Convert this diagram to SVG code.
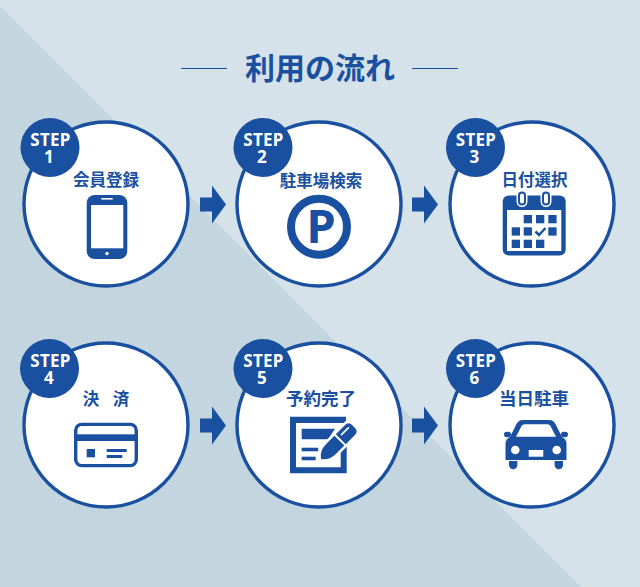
<svg xmlns="http://www.w3.org/2000/svg" width="640" height="587" viewBox="0 0 640 587">
<style>
.b{fill:#1a50a0}.w{fill:#fff}
.c{fill:#fff;stroke:#1a50a0;stroke-width:3.4}
text{font-family:"Noto Sans CJK JP","Noto Sans",sans-serif;font-weight:700;text-anchor:middle}
.s{fill:#fff;font-size:17px;letter-spacing:.3px;font-family:"Noto Sans","Noto Sans CJK JP",sans-serif}
.l{fill:#1a50a0;font-size:16.5px}
.t{fill:#1a50a0;font-size:30px}
</style>
<defs>
<g id="arrow"><path d="M0-7H12V-19L26 0 12 19V7H0Z" class="b"/></g>
</defs>
<rect width="640" height="587" fill="#d5e2e9"/>
<path d="M0 6L581 587H0Z" fill="#c3d5de"/>
<g id="title">
<text class="t" x="320" y="79">利用の流れ</text>
<path d="M181 68.5H227M412 68.5H458" stroke="#1a50a0" fill="none"/>
</g>
<g id="connectors">
<use href="#arrow" x="200" y="204.5"/>
<use href="#arrow" x="412" y="204.5"/>
<use href="#arrow" x="200" y="425.5"/>
<use href="#arrow" x="412" y="425.5"/>
</g>
<g id="step1">
<circle class="c" cx="106" cy="204" r="82"/>
<circle class="b" cx="50" cy="147.5" r="29.5"/>
<text class="s" x="50.500" y="146">STEP<tspan x="49" dy="17">1</tspan></text>
<text class="l" x="106" y="186">会員登録</text>
<rect class="b" x="86.7" y="195" width="40.6" height="64" rx="8"/>
<rect class="w" x="91" y="205" width="32.3" height="43.3"/>
<rect class="w" x="101.3" y="198" width="11.4" height="1.6"/>
<circle class="w" cx="107" cy="253.5" r="1.7"/>
</g>
<g id="step2">
<circle class="c" cx="319" cy="204" r="82"/>
<circle class="b" cx="263" cy="147.5" r="29.5"/>
<text class="s" x="263.500" y="146">STEP<tspan x="262" dy="17">2</tspan></text>
<text class="l" x="321" y="187">駐車場検索</text>
<circle cx="319" cy="226.7" r="28" fill="none" stroke="#1a50a0" stroke-width="8"/>
<text x="321" y="243.3" font-size="47" fill="#1a50a0" style="font-family:'Noto Sans',sans-serif">P</text>
</g>
<g id="step3">
<circle class="c" cx="532" cy="204" r="82"/>
<circle class="b" cx="475.5" cy="147.5" r="29.5"/>
<text class="s" x="476" y="146">STEP<tspan x="474.500" dy="17">3</tspan></text>
<text class="l" x="534.5" y="186">日付選択</text>
<rect class="b" x="502.7" y="195.5" width="63" height="60" rx="6"/>
<rect class="w" x="507" y="210" width="54.3" height="41"/>
<g fill="#fff" stroke="#fff" stroke-width="5">
<rect x="519" y="192.5" width="6" height="12" rx="3"/>
<rect x="543" y="192.5" width="6" height="12" rx="3"/>
</g>
<g fill="#fff" stroke="#1a50a0" stroke-width="2">
<rect x="519" y="192.5" width="6" height="12" rx="3"/>
<rect x="543" y="192.5" width="6" height="12" rx="3"/>
</g>
<g class="b">
<rect x="523.7" y="215" width="8.3" height="8.3"/><rect x="536" y="215" width="8.3" height="8.3"/><rect x="548.3" y="215" width="8.3" height="8.3"/>
<rect x="511.7" y="227.3" width="8.3" height="8.3"/><rect x="523.7" y="227.3" width="8.3" height="8.3"/><rect x="548.3" y="227.3" width="8.3" height="8.3"/>
<rect x="511.7" y="239.7" width="8.3" height="8.3"/><rect x="523.7" y="239.7" width="8.3" height="8.3"/><rect x="536" y="239.7" width="8.3" height="8.3"/>
</g>
<path d="M535.5 231.5L539 235 545.5 228" fill="none" stroke="#1a50a0" stroke-width="2.5"/>
</g>
<g id="step4">
<circle class="c" cx="106" cy="425" r="82"/>
<circle class="b" cx="49.5" cy="368.5" r="29.5"/>
<text class="s" x="50.500" y="367">STEP<tspan x="49" dy="17">4</tspan></text>
<text class="l" x="106" y="405" style="word-spacing:10px">決 済</text>
<rect x="75.7" y="424.4" width="60.6" height="41.2" rx="6" fill="#fff" stroke="#1a50a0" stroke-width="3.4"/>
<rect class="b" x="75" y="434.3" width="62" height="6.7"/>
<rect class="b" x="86.7" y="449" width="8.3" height="8.3"/>
<rect class="b" x="106.7" y="449" width="20" height="3"/>
<rect class="b" x="106.7" y="455" width="15.6" height="3"/>
</g>
<g id="step5">
<circle class="c" cx="319" cy="425" r="82"/>
<circle class="b" cx="263" cy="368.5" r="29.5"/>
<text class="s" x="263.500" y="367">STEP<tspan x="262" dy="17">5</tspan></text>
<text class="l" x="321" y="405" style="font-size:17.5px">予約完了</text>
<path class="b" d="M290 416.7H346V423H296V467.3H340.7V446L346.7 440V473.3H290Z"/>
<path class="b" d="M301.7 428.7H335L328 439.3H301.7Z"/>
<rect class="b" x="301.7" y="447.7" width="16.5" height="3.6"/>
<rect class="b" x="301.7" y="456.7" width="14" height="3.6"/>
<g transform="translate(321 459) rotate(-45)">
<path d="M0 0Q5-7 14-7H45Q49-7 49-2V2Q49 7 45 7H14Q5 7 0 0Z" fill="#fff" stroke="#fff" stroke-width="5" stroke-linejoin="round"/>
<path class="b" d="M0 0Q5-7 14-7H26V7H14Q5 7 0 0Z"/>
<path class="b" d="M28-7H41Q46-7 46-2V2Q46 7 41 7H28Z"/>
<rect class="w" x="31" y="-3.5" width="11" height="1.6"/>
</g>
</g>
<g id="step6">
<circle class="c" cx="532" cy="425" r="82"/>
<circle class="b" cx="475.5" cy="368.5" r="29.5"/>
<text class="s" x="476" y="367">STEP<tspan x="474.500" dy="17">6</tspan></text>
<text class="l" x="534" y="405" style="font-size:17.5px">当日駐車</text>
<path class="b" d="M505.500 460H566.500V443C566.500 440 564 438 562 437L556 425C554 421 552 420 549 420H523C520 420 518 421 516 425L510 437C508 438 505.500 440 505.500 443Z"/>
<path class="w" d="M516 436.700L521.500 426C522.500 424.800 523.500 424.300 525 424.300H547C548.500 424.300 549.500 424.800 550.500 426L556 436.700Z"/>
<circle class="w" cx="515.300" cy="450" r="4.300"/><circle class="w" cx="556.700" cy="450" r="4.300"/>
<rect class="w" x="528.700" y="450" width="14.600" height="6.700"/>
<rect class="b" x="504" y="431.700" width="7" height="5.600" rx="2.800"/><rect class="b" x="561" y="431.700" width="7" height="5.600" rx="2.800"/>
<path class="b" d="M509 461H517.400V465A4.200 4.200 0 0 1 509 465ZM554.600 461H563V465A4.200 4.200 0 0 1 554.600 465Z"/>
</g>
</svg>
